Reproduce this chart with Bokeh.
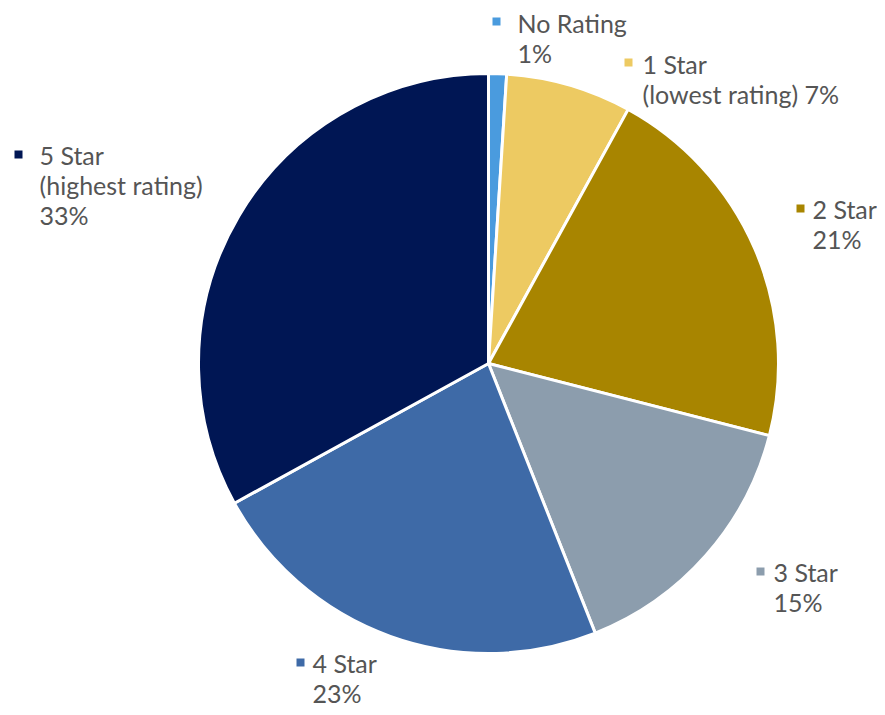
import math
from bokeh.plotting import figure
from bokeh.models import Range1d, ColumnDataSource
from bokeh.core.properties import value
from bokeh.embed import file_html
from bokeh.resources import INLINE

# ---- data ----
categories = ["No Rating", "1 Star", "2 Star", "3 Star", "4 Star", "5 Star"]
notes = ["", "(lowest rating)", "", "", "", "(highest rating)"]
shares = [1, 7, 21, 15, 23, 33]
colors = ["#4A9BDE", "#EDCA62", "#A88500", "#8C9DAD", "#3E6AA7", "#001654"]

# ---- layout (screen pixels of the picture) ----
W, H = 877, 707
pie_cx, pie_cy, pie_r = 488, 363, 290
note_inline = [False, True, False, False, False, False]
marker_pos = [(496, 21), (628, 62), (800, 208), (760, 571), (300, 662), (18, 154)]
text_pos = [(517, 31), (642, 72), (812, 217), (773, 580), (312, 671), (39, 163)]
text_shift = 9  # empirical correction of the alphabetic baseline
line_gap = 30
font = "Lato"
font_size = "25px"
text_color = "#555555"


def dx(sx):
    return sx


def dy(sy):
    return H - sy


p = figure(width=W, height=H, output_backend="svg", toolbar_location=None,
           x_range=Range1d(0, W), y_range=Range1d(0, H),
           x_axis_location=None, y_axis_location=None, min_border=0)
p.grid.visible = False
p.outline_line_color = None
p.background_fill_color = "white"
p.border_fill_color = "white"

total = float(sum(shares))
starts, ends = [], []
cum = 0.0
for s in shares:
    starts.append(math.pi / 2 - 2 * math.pi * cum / total)
    cum += s
    ends.append(math.pi / 2 - 2 * math.pi * cum / total)

src = ColumnDataSource(dict(start=starts, end=ends, color=colors, cat=categories))
p.wedge(x=dx(pie_cx), y=dy(pie_cy), radius=pie_r, start_angle="start", end_angle="end",
        direction="clock", fill_color="color", line_color="white", line_width=3, source=src)

# legend-like markers
p.scatter(x=[dx(m[0]) for m in marker_pos], y=[dy(m[1]) for m in marker_pos],
          marker="square", size=8, fill_color=colors, line_color=None)

# labels
tx, ty, tt = [], [], []
for i, cat in enumerate(categories):
    pct = f"{shares[i]}%"
    lines = [cat]
    if notes[i] and note_inline[i]:
        lines.append(notes[i] + " " + pct)
    else:
        if notes[i]:
            lines.append(notes[i])
        lines.append(pct)
    for j, ln in enumerate(lines):
        tx.append(dx(text_pos[i][0]))
        ty.append(dy(text_pos[i][1] + j * line_gap - text_shift))
        tt.append(ln)

p.text(x=tx, y=ty, text=tt, text_font=value(font), text_font_size=font_size,
       text_color=text_color, text_align="left", text_baseline="alphabetic")

open("out.html", "w").write(file_html(p, INLINE))
